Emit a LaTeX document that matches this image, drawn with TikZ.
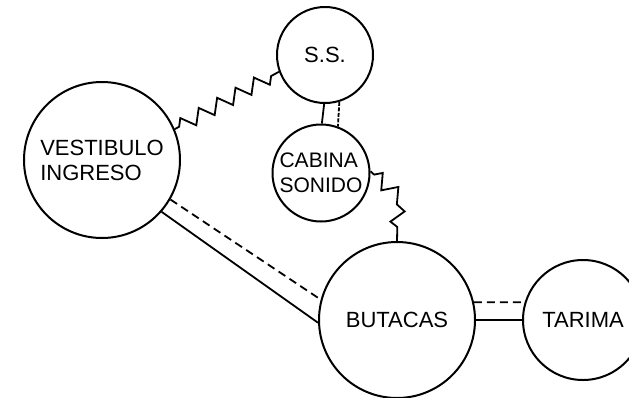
\documentclass[tikz,border=0pt]{standalone}
\usepackage{fontspec}
\setmainfont{Liberation Sans}
\usetikzlibrary{decorations.pathmorphing}
\begin{document}
\begin{tikzpicture}[x=1pt, y=-1pt, line width=1.8pt,
    every node/.style={draw,circle,line width=2pt,inner sep=0pt,align=left,font=\fontsize{22}{25}\selectfont},
    zz/.style={decorate,decoration={zigzag,segment length=21pt,amplitude=7pt,pre length=5pt,post length=5pt}},
    dsh/.style={dash pattern=on 8pt off 5pt}]
  \useasboundingbox (0,0) rectangle (629,397);
          \node [minimum size=156pt] (vest) at (102,160) {VESTIBULO\\INGRESO};
          \node [minimum size=96pt] (ss) at (325,55) {S.S.};
          \node [minimum size=97pt,font=\fontsize{21}{25}\selectfont] (cab) at (321,173) {CABINA\\SONIDO};
          \node [minimum size=156pt] (but) at (397,320) {BUTACAS};
          \node [minimum size=120pt] (tar) at (583,320) {TARIMA};
          \coordinate (knee) at (398,196);
            \draw [zz] (vest.23) -- (ss.-160);
            \draw (ss.-91) -- (cab.89);
            \draw [dash pattern=on 4pt off 1.5pt] (ss.-73) -- (cab.70);
            \draw [zz] (cab.2) -- (knee) -- (but.90);
            \draw (vest.-41) -- (but.182);
            \draw [dsh] (vest.-30) -- (but.165);
            \draw (but.0) -- (tar.180);
            \draw [dsh] (but.13) -- (tar.163);
        \end{tikzpicture}
\end{document}
